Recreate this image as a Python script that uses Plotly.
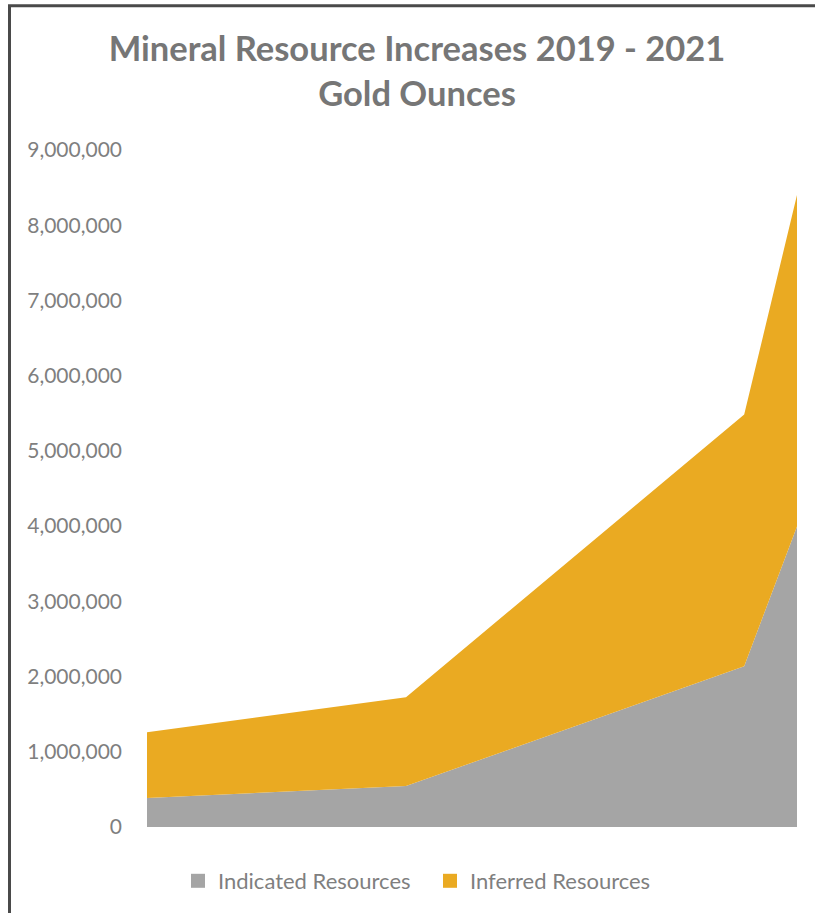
import plotly.graph_objects as go

# Data (gold ounces)
dates = ["2019-01-01", "2019-12-30", "2021-04-17", "2021-06-30"]
indicated = [385000, 544000, 2137000, 3996000]
inferred = [876000, 1182000, 3346000, 4407000]
series_names = ["Indicated Resources", "Inferred Resources"]
colors = ["#A5A5A5", "#EAAA22"]
y_ticks = [0, 1000000, 2000000, 3000000, 4000000, 5000000, 6000000, 7000000, 8000000, 9000000]

W, H = 815, 913
ML, MR, MT, MB = 147, 18, 150, 85
pw, ph = W - ML - MR, H - MT - MB

def px_x(p):
    return (p - ML) / pw

def px_y(p):
    return (H - MB - p) / ph

fig = go.Figure()
for name, vals, col in zip(series_names, [indicated, inferred], colors):
    fig.add_trace(go.Scatter(
        x=dates, y=vals, name=name, mode="lines", stackgroup="one",
        line=dict(width=0, color=col), fillcolor=col, showlegend=False,
        hoverinfo="skip"))
for name, col in zip(series_names, colors):
    fig.add_trace(go.Scatter(
        x=[None], y=[None], name=name, mode="markers",
        marker=dict(symbol="square", size=14, color=col), showlegend=True))

fig.update_layout(
    width=W, height=H,
    margin=dict(l=ML, r=MR, t=MT, b=MB),
    paper_bgcolor="white", plot_bgcolor="white",
    font=dict(family="Lato", color="#7F7F7F"),
    title=dict(
        text="Mineral Resource Increases 2019 - 2021<br>Gold Ounces",
        x=417 / W, xanchor="center", xref="container",
        y=1 - 61 / H, yanchor="top",
        font=dict(family="Lato", size=34.5, color="#767676", weight="bold")),
    xaxis=dict(visible=False, type="date", range=[dates[0], dates[-1]]),
    yaxis=dict(range=[0, 9000000], tickvals=y_ticks, tickformat=",",
               showgrid=False, zeroline=False, showline=False,
               ticklabelstandoff=24,
               tickfont=dict(family="Lato", size=21, color="#7F7F7F")),
    legend=dict(orientation="h", x=px_x(178), xanchor="left",
                y=px_y(881), yanchor="middle", traceorder="normal",
                font=dict(family="Lato", size=22, color="#7F7F7F"),
                itemwidth=30, entrywidth=207, entrywidthmode="pixels",
                bgcolor="rgba(0,0,0,0)"),
    showlegend=True,
)

fig.add_shape(type="rect", xref="paper", yref="paper",
              x0=px_x(9.5), x1=px_x(830), y0=px_y(930), y1=px_y(5.5),
              line=dict(color="#4A4A4A", width=3), fillcolor="rgba(0,0,0,0)",
              layer="above")

fig.write_html("out.html", config={"displayModeBar": False},
               post_script="document.body.style.margin='0';document.body.style.overflow='hidden';")
